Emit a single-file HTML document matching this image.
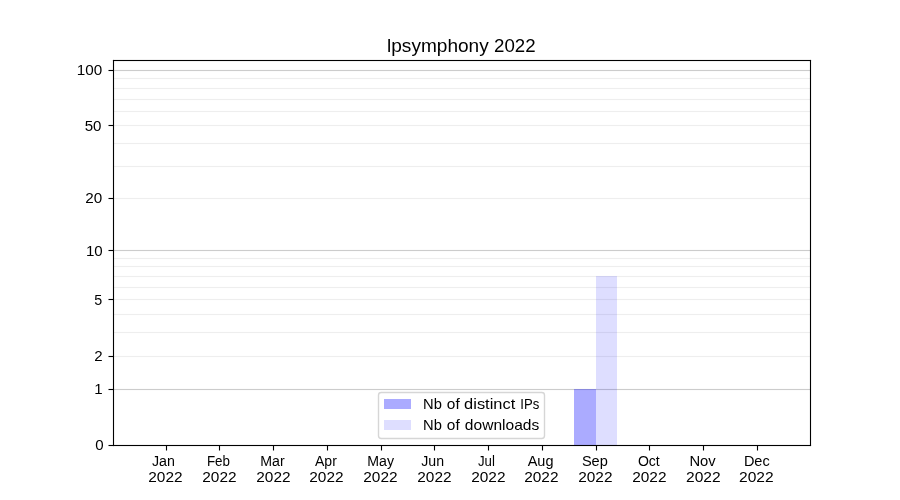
<!DOCTYPE html>
<html lang="en"><head><meta charset="utf-8"><title>lpsymphony 2022</title>
<style>html,body{margin:0;padding:0;background:#fff;}body{width:900px;height:500px;overflow:hidden;}svg{display:block;will-change:transform;}text{font-family:"Liberation Sans",sans-serif;fill:#000;}</style></head><body>
<svg width="900" height="500" viewBox="0 0 900 500">
<rect x="0" y="0" width="900" height="500" fill="#ffffff"/>
<g fill="#eeeeee">
<rect x="113" y="355.945" width="698" height="1.110"/>
<rect x="113" y="331.945" width="698" height="1.110"/>
<rect x="113" y="313.945" width="698" height="1.110"/>
<rect x="113" y="298.945" width="698" height="1.110"/>
<rect x="113" y="286.945" width="698" height="1.110"/>
<rect x="113" y="275.945" width="698" height="1.110"/>
<rect x="113" y="265.945" width="698" height="1.110"/>
<rect x="113" y="257.945" width="698" height="1.110"/>
<rect x="113" y="197.945" width="698" height="1.110"/>
<rect x="113" y="165.945" width="698" height="1.110"/>
<rect x="113" y="142.945" width="698" height="1.110"/>
<rect x="113" y="124.945" width="698" height="1.110"/>
<rect x="113" y="110.945" width="698" height="1.110"/>
<rect x="113" y="98.945" width="698" height="1.110"/>
<rect x="113" y="87.945" width="698" height="1.110"/>
<rect x="113" y="77.945" width="698" height="1.110"/>
</g><g fill="#cccccc">
<rect x="113" y="388.945" width="698" height="1.110"/>
<rect x="113" y="249.945" width="698" height="1.110"/>
<rect x="113" y="69.945" width="698" height="1.110"/>
</g>
<rect x="574" y="389" width="22" height="56" fill="#0000ff" fill-opacity="0.33"/>
<rect x="596" y="276" width="21" height="169" fill="#0000ff" fill-opacity="0.13"/>
<g fill="#000000">
<rect x="108.5" y="444.945" width="5.0" height="1.110"/>
<rect x="108.5" y="388.945" width="5.0" height="1.110"/>
<rect x="108.5" y="355.945" width="5.0" height="1.110"/>
<rect x="108.5" y="298.945" width="5.0" height="1.110"/>
<rect x="108.5" y="249.945" width="5.0" height="1.110"/>
<rect x="108.5" y="197.945" width="5.0" height="1.110"/>
<rect x="108.5" y="124.945" width="5.0" height="1.110"/>
<rect x="108.5" y="69.945" width="5.0" height="1.110"/>
<rect x="165.945" y="445.5" width="1.110" height="5.0"/>
<rect x="218.945" y="445.5" width="1.110" height="5.0"/>
<rect x="272.945" y="445.5" width="1.110" height="5.0"/>
<rect x="326.945" y="445.5" width="1.110" height="5.0"/>
<rect x="380.945" y="445.5" width="1.110" height="5.0"/>
<rect x="433.945" y="445.5" width="1.110" height="5.0"/>
<rect x="487.945" y="445.5" width="1.110" height="5.0"/>
<rect x="541.945" y="445.5" width="1.110" height="5.0"/>
<rect x="595.945" y="445.5" width="1.110" height="5.0"/>
<rect x="648.945" y="445.5" width="1.110" height="5.0"/>
<rect x="702.945" y="445.5" width="1.110" height="5.0"/>
<rect x="756.945" y="445.5" width="1.110" height="5.0"/>
</g>
<g fill="#000000">
<rect x="112.945" y="59.945" width="1.110" height="386.11"/>
<rect x="809.945" y="59.945" width="1.110" height="386.11"/>
<rect x="112.945" y="59.945" width="698.1099999999999" height="1.110"/>
<rect x="112.945" y="444.945" width="698.1099999999999" height="1.110"/>
</g>
<text x="76.83" y="75.00" font-size="14.1" textLength="25.45" lengthAdjust="spacingAndGlyphs">100</text>
<text x="84.74" y="131.00" font-size="14.1" textLength="16.79" lengthAdjust="spacingAndGlyphs">50</text>
<text x="85.31" y="203.00" font-size="14.1" textLength="16.97" lengthAdjust="spacingAndGlyphs">20</text>
<text x="85.99" y="256.00" font-size="14.1" textLength="16.79" lengthAdjust="spacingAndGlyphs">10</text>
<text x="94.33" y="305.00" font-size="14.1" textLength="7.95" lengthAdjust="spacingAndGlyphs">5</text>
<text x="94.39" y="361.00" font-size="14.1" textLength="8.39" lengthAdjust="spacingAndGlyphs">2</text>
<text x="94.39" y="394.00" font-size="14.1" textLength="8.39" lengthAdjust="spacingAndGlyphs">1</text>
<text x="95.39" y="450.00" font-size="14.1" textLength="8.39" lengthAdjust="spacingAndGlyphs">0</text>
<text x="151.99" y="466.00" font-size="14.9" textLength="22.91" lengthAdjust="spacingAndGlyphs">Jan</text>
<text x="148.31" y="482.00" font-size="14.1" textLength="34.29" lengthAdjust="spacingAndGlyphs">2022</text>
<text x="206.90" y="466.00" font-size="14.9" textLength="23.07" lengthAdjust="spacingAndGlyphs">Feb</text>
<text x="202.29" y="482.00" font-size="14.1" textLength="34.29" lengthAdjust="spacingAndGlyphs">2022</text>
<text x="260.24" y="466.00" font-size="14.9" textLength="24.37" lengthAdjust="spacingAndGlyphs">Mar</text>
<text x="256.28" y="482.00" font-size="14.1" textLength="34.29" lengthAdjust="spacingAndGlyphs">2022</text>
<text x="314.98" y="466.00" font-size="14.9" textLength="21.87" lengthAdjust="spacingAndGlyphs">Apr</text>
<text x="309.27" y="482.00" font-size="14.1" textLength="34.29" lengthAdjust="spacingAndGlyphs">2022</text>
<text x="367.29" y="466.00" font-size="14.9" textLength="26.70" lengthAdjust="spacingAndGlyphs">May</text>
<text x="363.25" y="482.00" font-size="14.1" textLength="34.29" lengthAdjust="spacingAndGlyphs">2022</text>
<text x="421.24" y="466.00" font-size="14.9" textLength="22.79" lengthAdjust="spacingAndGlyphs">Jun</text>
<text x="417.24" y="482.00" font-size="14.1" textLength="34.29" lengthAdjust="spacingAndGlyphs">2022</text>
<text x="477.91" y="466.00" font-size="14.9" textLength="16.93" lengthAdjust="spacingAndGlyphs">Jul</text>
<text x="471.23" y="482.00" font-size="14.1" textLength="34.29" lengthAdjust="spacingAndGlyphs">2022</text>
<text x="527.72" y="466.00" font-size="14.9" textLength="25.76" lengthAdjust="spacingAndGlyphs">Aug</text>
<text x="524.21" y="482.00" font-size="14.1" textLength="34.29" lengthAdjust="spacingAndGlyphs">2022</text>
<text x="581.88" y="466.00" font-size="14.9" textLength="25.92" lengthAdjust="spacingAndGlyphs">Sep</text>
<text x="578.20" y="482.00" font-size="14.1" textLength="34.29" lengthAdjust="spacingAndGlyphs">2022</text>
<text x="637.90" y="466.00" font-size="14.9" textLength="21.85" lengthAdjust="spacingAndGlyphs">Oct</text>
<text x="632.18" y="482.00" font-size="14.1" textLength="34.29" lengthAdjust="spacingAndGlyphs">2022</text>
<text x="689.42" y="466.00" font-size="14.9" textLength="26.29" lengthAdjust="spacingAndGlyphs">Nov</text>
<text x="685.99" y="482.00" font-size="14.1" textLength="34.64" lengthAdjust="spacingAndGlyphs">2022</text>
<text x="743.90" y="466.00" font-size="14.9" textLength="25.80" lengthAdjust="spacingAndGlyphs">Dec</text>
<text x="738.98" y="482.00" font-size="14.1" textLength="34.64" lengthAdjust="spacingAndGlyphs">2022</text>
<text y="51.50" font-size="18.02"><tspan x="387.01" textLength="101.76" lengthAdjust="spacingAndGlyphs">lpsymphony</tspan> <tspan x="493.99" textLength="41.57" lengthAdjust="spacingAndGlyphs">2022</tspan></text>
<path d="M381.28,392.5 L541.72,392.5 Q544.5,392.5 544.5,395.28 L544.5,435.72 Q544.5,438.5 541.72,438.5 L381.28,438.5 Q378.5,438.5 378.5,435.72 L378.5,395.28 Q378.5,392.5 381.28,392.5 Z" fill="#ffffff" fill-opacity="0.8" stroke="#cccccc" stroke-opacity="0.8" stroke-width="1.39"/>
<rect x="384" y="399" width="27" height="10" fill="#0000ff" fill-opacity="0.33"/>
<rect x="384" y="420" width="27" height="10" fill="#0000ff" fill-opacity="0.13"/>
<text y="409.00" font-size="14.4"><tspan x="423.14" textLength="18.82" lengthAdjust="spacingAndGlyphs">Nb</tspan> <tspan x="446.84" textLength="12.85" lengthAdjust="spacingAndGlyphs">of</tspan> <tspan x="464.12" textLength="51.10" lengthAdjust="spacingAndGlyphs">distinct</tspan> <tspan x="520.28" textLength="18.92" lengthAdjust="spacingAndGlyphs">IPs</tspan></text>
<text y="430.00" font-size="14.4"><tspan x="423.14" textLength="18.82" lengthAdjust="spacingAndGlyphs">Nb</tspan> <tspan x="446.84" textLength="12.85" lengthAdjust="spacingAndGlyphs">of</tspan> <tspan x="464.87" textLength="74.40" lengthAdjust="spacingAndGlyphs">downloads</tspan></text>
</svg></body></html>
